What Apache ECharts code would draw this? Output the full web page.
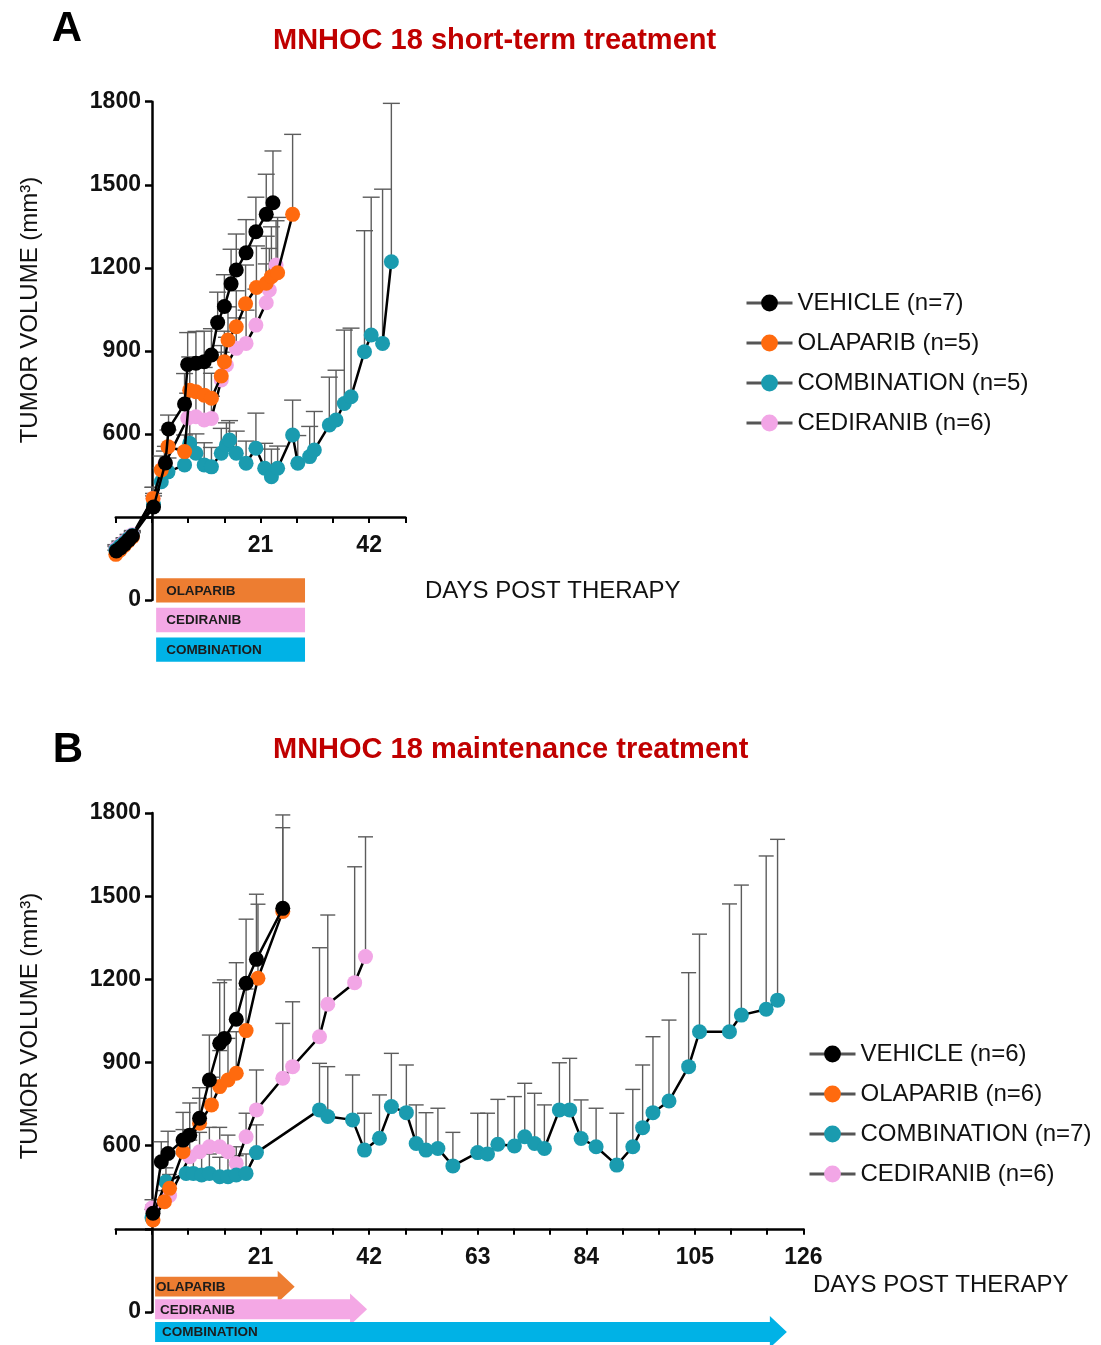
<!DOCTYPE html>
<html><head><meta charset="utf-8">
<script src="https://cdn.jsdelivr.net/npm/echarts@6/dist/echarts.min.js"></script>
<style>html,body{margin:0;padding:0;background:#fff}#c{width:1101px;height:1345px}</style>
</head><body><div id="c"></div>
<script>
// ---------- DATA (day, mean volume, SEM) ----------
const A_VEHICLE = [[-6.9,177,15],[-6.1,188,15],[-5.3,202,15],[-4.5,217,15],[-3.8,231,15],
 [0.3,336,40],[2.6,495,60],[3.2,618,50],[6.3,708,110],[6.9,851,115],[8.5,855,115],[10.1,861,110],[11.5,885,95],
 [12.7,1002,110],[14.0,1060,115],[15.3,1142,125],[16.3,1192,130],[18.2,1254,120],[20.1,1330,125],[22.1,1393,145],[23.4,1435,187]];
const A_OLAPARIB = [[-7.0,165,15],[-6.2,180,15],[-5.4,196,15],[-4.6,212,15],[-3.8,228,15],
 [0.2,367,40],[1.8,470,50],[3.1,554,60],[6.3,536,60],[7.3,758,120],[8.5,752,110],[10.1,740,100],[11.5,729,90],
 [13.4,809,110],[14.0,861,110],[14.7,939,120],[16.3,987,130],[18.1,1070,140],[20.2,1129,150],[22.1,1144,170],
 [23.1,1168,180],[24.3,1182,200],[27.2,1393,289]];
const A_CEDIRANIB = [[-7.0,185,15],[-6.2,198,15],[-5.4,210,15],[-4.6,222,15],[-3.8,236,15],
 [0.2,367,40],[2.4,488,50],[6.9,657,90],[8.5,662,80],[10.1,650,80],[11.5,656,80],[13.4,795,100],[14.4,849,100],
 [16.3,909,110],[18.2,927,120],[20.1,993,130],[22.1,1074,140],[22.7,1120,150],[24.0,1210,160]];
const A_COMBINATION = [[-7.0,180,15],[-6.2,194,15],[-5.4,206,15],[-4.6,220,15],[-3.8,233,15],
 [0.3,345,40],[1.8,427,50],[3.1,463,50],[6.3,488,60],[7.3,566,90],[8.5,530,70],[10.1,488,80],[11.5,481,70],
 [13.4,530,90],[14.4,560,80],[15.0,578,70],[16.3,530,80],[18.2,494,80],[20.1,548,127],[21.8,476,90],[23.1,445,100],
 [24.3,476,80],[27.2,596,126],[28.2,494,100],[30.5,518,109],[31.4,542,139],[34.3,632,173],[35.6,650,180],
 [37.2,710,265],[38.5,734,248],[41.1,897,437],[42.4,957,498],[44.6,927,557],[46.3,1222,572]];

const B_VEHICLE = [[0.2,356,30],[1.8,542,72],[3.1,572,80],[6.0,620,100],[7.3,638,116],[9.2,699,110],[11.1,837,162],
 [13.1,969,219],[14.0,987,211],[16.3,1056,204],[18.2,1186,231],[20.2,1272,235],[25.3,1456,337]];
const B_OLAPARIB = [[0.2,332,30],[2.4,398,40],[3.4,446,50],[6.0,578,80],[9.2,681,90],[11.5,747,100],[13.1,813,130],
 [14.7,837,150],[16.3,861,150],[18.2,1015,150],[20.5,1204,267],[25.3,1445,302]];
const B_CEDIRANIB = [[0.0,375,30],[3.4,420,40],[7.3,560,60],[9.2,578,70],[11.1,596,70],[13.1,596,70],[14.7,578,60],
 [16.3,536,60],[18.2,632,85],[20.2,729,144],[25.3,843,198],[27.2,885,234],[32.4,993,321],[34.0,1110,322],
 [39.2,1188,418],[41.3,1282,432]];
const B_COMBINATION = [[0.0,340,30],[2.7,470,50],[6.6,500,70],[8.0,500,80],[9.6,494,80],[11.1,500,70],[13.1,488,70],
 [14.7,488,70],[16.3,494,70],[18.2,500,70],[20.2,575,100],[32.4,729,168],[34.0,705,180],[38.8,693,162],[41.1,584,133],
 [44.0,627,156],[46.3,741,192],[49.2,719,172],[51.1,608,139],[53.0,584,135],[55.3,590,145],[58.2,527,121],
 [63.0,575,142],[64.9,570,147],[66.9,605,162],[70.1,599,178],[72.1,632,193],[74.0,608,181],[75.9,590,157],
 [78.8,729,170],[80.8,729,186],[83.0,626,139],[85.9,596,139],[89.9,530,187],[93.0,596,207],[94.9,665,226],
 [96.9,719,274],[100.0,761,292],[103.8,885,339],[105.9,1011,352],[111.7,1011,461],[114.0,1071,469],
 [118.8,1092,553],[121.0,1125,580]];

const A_NAMES = ['VEHICLE (n=7)','OLAPARIB (n=5)','COMBINATION (n=5)','CEDIRANIB (n=6)'];
const B_NAMES = ['VEHICLE (n=6)','OLAPARIB (n=6)','COMBINATION (n=7)','CEDIRANIB (n=6)'];

const TREATMENTS = ['OLAPARIB','CEDIRANIB','COMBINATION'];
const A_TREAT_START = [0.8,0.8,0.8];
const A_TREAT_END = [29.6,29.6,29.6];
const B_TREAT_START = [0.6,0.6,0.6];
const B_TREAT_END = [27.6,41.6,122.8];

const Y_TICK_LABELS = [0,600,900,1200,1500,1800];
const A_X_LABELS = [21,42];
const B_X_LABELS = [21,42,63,84,105,126];
const X_CROSS_VALUE = 300;   // value of the y axis where the day axis crosses

// ---------- STYLE / LAYOUT ----------
const FONT = '"Liberation Sans", Arial, Helvetica, sans-serif';
const COL = {veh:'#000000', ola:'#FF6A0E', comb:'#1A9BAF', ced:'#F2A6E6'};
const LANE_COL = ['#ED7D31','#F4A8E5','#00B2E6'];
const PX_PER_DAY = 5.17, LEFT = 115.8;
const A_TOP = 101.7, A_H = 498.3, B_TOP = 813, B_H = 499;
const A_W = 56*PX_PER_DAY, B_W = 133*PX_PER_DAY;
const ZERO_X = LEFT + 7*PX_PER_DAY;

function lineSeries(name, data, xi, yi, color, z){
  return {type:'line', name, xAxisIndex:xi, yAxisIndex:yi, z, clip:false,
    data:data.map(d=>[d[0],d[1]]), symbol:'circle', symbolSize:15,
    itemStyle:{color, borderWidth:0}, lineStyle:{color:'#000', width:2.5},
    emphasis:{disabled:true}};
}
function errSeries(data, xi, yi, hw){
  return {type:'custom', xAxisIndex:xi, yAxisIndex:yi, z:1, silent:true, clip:false,
    data:data, encode:{x:0,y:1},
    renderItem:(p, api)=>{
      const x=api.value(0), y=api.value(1), e=api.value(2);
      const p0=api.coord([x,y]), p1=api.coord([x,y+e]);
      const st={stroke:'#5c5c5c', lineWidth:1.4};
      return {type:'group', children:[
        {type:'line', shape:{x1:p0[0],y1:p0[1],x2:p1[0],y2:p1[1]}, style:st},
        {type:'line', shape:{x1:p1[0]-hw,y1:p1[1],x2:p1[0]+hw,y2:p1[1]}, style:st}
      ]};
    }};
}
function laneSeries(starts, ends, xi, yi, arrow, pads){
  return {type:'custom', xAxisIndex:xi, yAxisIndex:yi, silent:true, clip:false,
    data:TREATMENTS.map((n,i)=>[starts[i], ends[i], i]), encode:{x:[0,1], y:2},
    renderItem:(p, api)=>{
      const i=api.value(2);
      const s=api.coord([api.value(0), i]), e=api.coord([api.value(1), i]);
      const band=api.size([0,1])[1];
      let shp;
      if(!arrow){
        const h=band*0.82;
        shp={type:'rect', shape:{x:s[0], y:s[1]-h/2, width:e[0]-s[0], height:h}, style:{fill:LANE_COL[i]}};
      } else {
        const h=band*0.88, hh=band*1.4, hl=17;
        const pts=[[s[0],s[1]-h/2],[e[0]-hl,s[1]-h/2],[e[0]-hl,s[1]-hh/2],[e[0],s[1]],
                   [e[0]-hl,s[1]+hh/2],[e[0]-hl,s[1]+h/2],[s[0],s[1]+h/2]];
        shp={type:'polygon', shape:{points:pts}, style:{fill:LANE_COL[i]}};
      }
      return {type:'group', children:[shp,
        {type:'text', style:{text:TREATMENTS[i], x:s[0]+pads[i], y:s[1]+0.5, verticalAlign:'middle',
          fill:'#1c1c1c', font:'bold 13.5px '+FONT}}]};
    }};
}

const hiddenVal = (gi, min, max) => ({gridIndex:gi, type:'value', min, max, show:false});
function visY(gi){
  return {gridIndex:gi, type:'value', min:0, max:1800, interval:300, position:'left',
    axisLine:{show:true, onZero:false, lineStyle:{color:'#000', width:2.5}},
    axisTick:{show:true, length:7, lineStyle:{color:'#000', width:2.5}},
    axisLabel:{show:true, margin:11, fontSize:23, fontWeight:'bold', color:'#111', fontFamily:FONT,
      hideOverlap:false, formatter:v=>Y_TICK_LABELS.includes(v)?String(v):''},
    splitLine:{show:false}};
}
function visX(gi, max, labels){
  return {gridIndex:gi, type:'value', min:-7, max:max, interval:7, position:'bottom',
    axisLine:{show:true, onZero:false, lineStyle:{color:'#000', width:2.5}},
    axisTick:{show:true, length:6, lineStyle:{color:'#000', width:2}},
    axisLabel:{show:true, margin:17, fontSize:23, fontWeight:'bold', color:'#111', fontFamily:FONT,
      hideOverlap:false, formatter:v=>labels.includes(v)?String(v):''},
    splitLine:{show:false}};
}
function legend(names, left, top){
  return {data:names, orient:'vertical', left, top, padding:0, itemWidth:46, itemHeight:21, itemGap:16,
    selectedMode:false, textStyle:{fontSize:24, color:'#111', fontFamily:FONT},
    lineStyle:{color:'#555', width:3}};
}
const txt=(x,y,text,size,opts={})=>({type:'text', x, y, rotation:opts.rot||0, silent:true,
  style:Object.assign({text, fontSize:size, fontFamily:FONT, fill:'#111', verticalAlign:'middle', align:'left'}, opts.st||{})});
const G = (left, top, width, height) => ({left, top, width, height, outerBoundsMode:'none', containLabel:false});

const axH_A = A_H*(1 - X_CROSS_VALUE/1800), axH_B = B_H*(1 - X_CROSS_VALUE/1800);

const chart = echarts.init(document.getElementById('c'), null, {renderer:'canvas'});
chart.setOption({
  animation:false,
  backgroundColor:'#fff',
  grid:[
    G(LEFT, A_TOP, A_W, A_H),            // 0 A data
    G(LEFT, B_TOP, B_W, B_H),            // 1 B data
    G(LEFT, 575.5, A_W, 89),             // 2 A treatment lanes
    G(LEFT, 1275.3, B_W, 68),            // 3 B treatment lanes
    G(LEFT, A_TOP, A_W, axH_A),          // 4 A day axis (crosses at 300)
    G(LEFT, B_TOP, B_W, axH_B),          // 5 B day axis
    G(ZERO_X, A_TOP, A_W-7*PX_PER_DAY, A_H),  // 6 A volume axis at day 0
    G(ZERO_X, B_TOP, B_W-7*PX_PER_DAY, B_H)   // 7 B volume axis at day 0
  ],
  xAxis:[
    hiddenVal(0,-7,49), hiddenVal(1,-7,126), hiddenVal(2,-7,49), hiddenVal(3,-7,126),
    visX(4, 49, A_X_LABELS), visX(5, 126, B_X_LABELS),
    hiddenVal(6,0,49), hiddenVal(7,0,126)
  ],
  yAxis:[
    hiddenVal(0,0,1800), hiddenVal(1,0,1800),
    {gridIndex:2, type:'category', data:TREATMENTS, inverse:true, show:false},
    {gridIndex:3, type:'category', data:TREATMENTS, inverse:true, show:false},
    hiddenVal(4,X_CROSS_VALUE,1800), hiddenVal(5,X_CROSS_VALUE,1800),
    visY(6), visY(7)
  ],
  legend:[legend(A_NAMES, 745, 291), legend(B_NAMES, 808, 1042)],
  graphic:[
    txt(67,29,'A',42,{st:{fontWeight:'bold', align:'center', fill:'#000'}}),
    txt(68,750,'B',42,{st:{fontWeight:'bold', align:'center', fill:'#000'}}),
    txt(273,41,'MNHOC 18 short-term treatment',29,{st:{fontWeight:'bold', fill:'#C00000'}}),
    txt(273,750,'MNHOC 18 maintenance treatment',29,{st:{fontWeight:'bold', fill:'#C00000'}}),
    txt(30,310,'TUMOR VOLUME (mm³)',24,{rot:Math.PI/2, st:{align:'center'}}),
    txt(30,1026,'TUMOR VOLUME (mm³)',24,{rot:Math.PI/2, st:{align:'center'}}),
    txt(425,591,'DAYS POST THERAPY',24),
    txt(813,1285,'DAYS POST THERAPY',24)
  ],
  series:[
    errSeries(A_CEDIRANIB,0,0,8.5), errSeries(A_COMBINATION,0,0,8.5), errSeries(A_OLAPARIB,0,0,8.5), errSeries(A_VEHICLE,0,0,8.5),
    lineSeries(A_NAMES[3], A_CEDIRANIB, 0,0, COL.ced, 2),
    lineSeries(A_NAMES[2], A_COMBINATION, 0,0, COL.comb, 3),
    lineSeries(A_NAMES[1], A_OLAPARIB, 0,0, COL.ola, 4),
    lineSeries(A_NAMES[0], A_VEHICLE, 0,0, COL.veh, 5),
    errSeries(B_CEDIRANIB,1,1,7.5), errSeries(B_COMBINATION,1,1,7.5), errSeries(B_OLAPARIB,1,1,7.5), errSeries(B_VEHICLE,1,1,7.5),
    lineSeries(B_NAMES[3], B_CEDIRANIB, 1,1, COL.ced, 2),
    lineSeries(B_NAMES[2], B_COMBINATION, 1,1, COL.comb, 3),
    lineSeries(B_NAMES[1], B_OLAPARIB, 1,1, COL.ola, 4),
    lineSeries(B_NAMES[0], B_VEHICLE, 1,1, COL.veh, 5),
    laneSeries(A_TREAT_START, A_TREAT_END, 2, 2, false, [10,10,10]),
    laneSeries(B_TREAT_START, B_TREAT_END, 3, 3, true, [1,5,7])
  ]
});
</script></body></html>
